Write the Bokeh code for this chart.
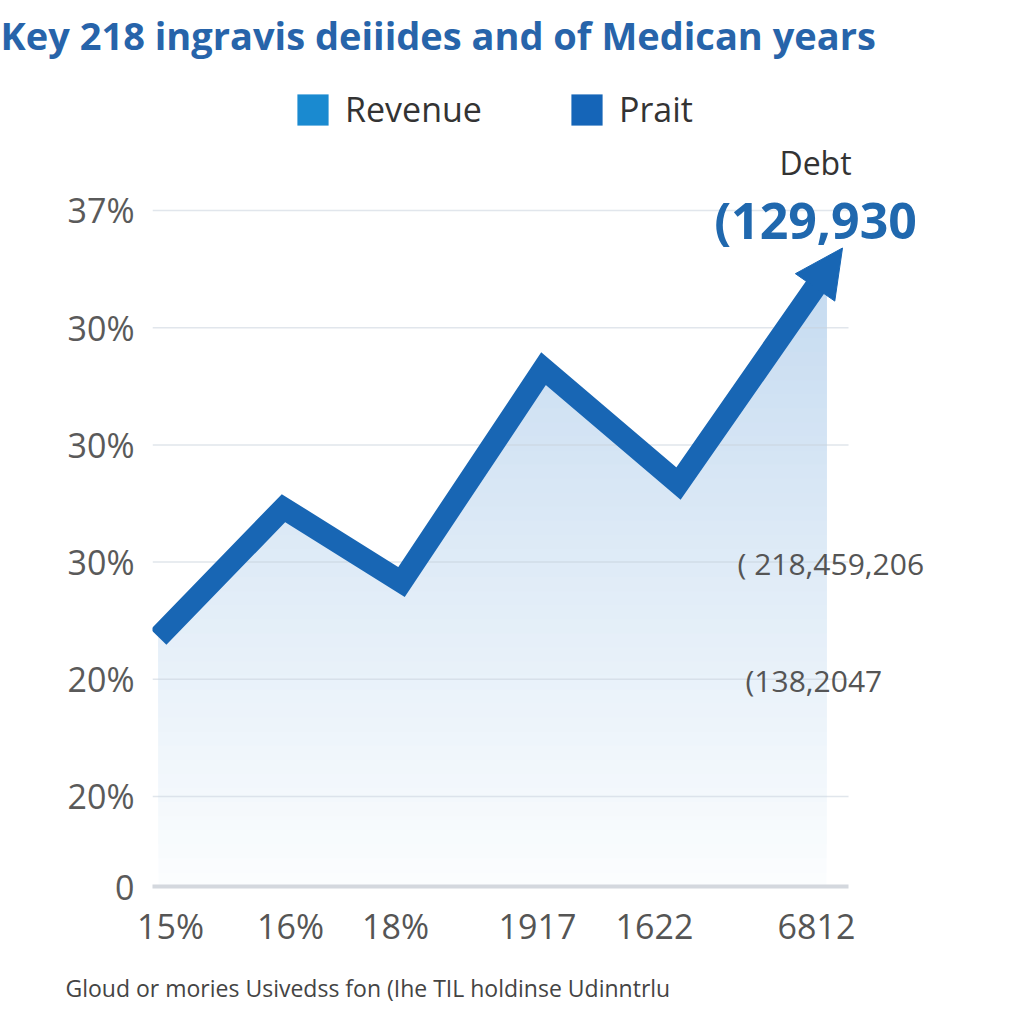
import numpy as np
from bokeh.plotting import figure
from bokeh.models import Label, Arrow, NormalHead, FixedTicker, Legend, LegendItem, Range1d, Title
from bokeh.embed import file_html
from bokeh.resources import INLINE

# ---- data ----
title_text = "Key 218 ingravis deiiides and of Medican years"
footer_text = "Gloud or mories Usivedss fon (Ihe TIL holdinse Udinntrlu"
legend_labels = ["Revenue", "Prait"]
legend_colors = ["#1a8ad0", "#1565b8"]
x_tick_pos = [0.18, 1.38, 2.43, 3.85, 5.02, 6.64]
x_tick_labels = ["15%", "16%", "18%", "1917", "1622", "6812"]
y_tick_pos = [0.232, 1, 2, 3, 4, 5, 6]
y_tick_labels = ["0", "20%", "20%", "30%", "30%", "30%", "37%"]
series_x = [0.06, 1.31, 2.49, 3.91, 5.26, 6.90]
series_y = [2.36, 3.46, 2.83, 4.65, 3.67, 5.68]
debt_label = "Debt"
debt_value = "(129,930"
note_values = ["( 218,459,206", "(138,2047"]
note_x = [5.85, 5.93]
note_y = [2.99, 1.99]

LINE = "#1866b4"
FONT = "Open Sans"
AXIS_END = 6.96          # where the axis line / grid lines stop
PX_X = 100.0             # px per x unit
PX_Y = 117.2             # px per y unit
TOP, BOTTOM, LEFT = 60, 138, 152
frame_h = 1024 - TOP - BOTTOM
frame_w = 1024 - LEFT

p = figure(width=1024, height=1024, output_backend="svg", toolbar_location=None,
           x_range=Range1d(0, frame_w / PX_X),
           y_range=Range1d(y_tick_pos[0], y_tick_pos[0] + frame_h / PX_Y),
           min_border_left=LEFT, min_border_right=0, min_border_top=TOP, min_border_bottom=BOTTOM,
           background_fill_color="white", border_fill_color="white")
p.outline_line_color = None
p.xgrid.visible = False
p.ygrid.visible = False

# title (top) and footer (bottom)
p.title.text = title_text
p.title.align = "left"
p.title.offset = -LEFT
p.title.text_font = FONT
p.title.text_font_size = "38px"
p.title.text_font_style = "bold"
p.title.text_color = "#2764aa"
p.title.standoff = 0
p.add_layout(Title(text=footer_text, align="left", offset=65 - LEFT, text_font=FONT,
                   text_font_size="23px", text_font_style="normal", text_color="#444444",
                   standoff=36), "below")

# axes
p.xaxis.ticker = FixedTicker(ticks=x_tick_pos)
p.xaxis.major_label_overrides = {v: s for v, s in zip(x_tick_pos, x_tick_labels)}
p.xaxis.bounds = (0, AXIS_END)
p.xaxis.major_tick_out = 0
p.xaxis.major_tick_in = 0
p.xaxis.minor_tick_out = 0
p.xaxis.minor_tick_in = 0
p.xaxis.axis_line_color = "#d4d8de"
p.xaxis.axis_line_width = 4
p.xaxis.major_label_text_font = FONT
p.xaxis.major_label_text_font_size = "34px"
p.xaxis.major_label_text_color = "#555555"
p.xaxis.major_label_standoff = 16

p.yaxis.ticker = FixedTicker(ticks=y_tick_pos)
p.yaxis.major_label_overrides = {v: s for v, s in zip(y_tick_pos, y_tick_labels)}
p.yaxis.major_tick_out = 0
p.yaxis.major_tick_in = 0
p.yaxis.minor_tick_out = 0
p.yaxis.minor_tick_in = 0
p.yaxis.axis_line_color = None
p.yaxis.major_label_text_font = FONT
p.yaxis.major_label_text_font_size = "34px"
p.yaxis.major_label_text_color = "#5a5a5a"
p.yaxis.major_label_standoff = 18

# line geometry: end the stroke a little before the arrow tip (in screen px)
dxp = (series_x[-1] - series_x[-2]) * PX_X
dyp = (series_y[-1] - series_y[-2]) * PX_Y
L = np.hypot(dxp, dyp)
back = 28.0
base_x = series_x[-1] - dxp / L * back / PX_X
base_y = series_y[-1] - dyp / L * back / PX_Y
lx = list(series_x[:-1]) + [base_x]
ly = list(series_y[:-1]) + [base_y]

# vertical gradient under the line: opaque layers painted bottom-up
xd = np.linspace(lx[0], lx[-1], 500)
yd = np.interp(xd, lx, ly)
c_lo = np.array([251, 253, 254])
c_hi = np.array([196, 218, 240])
y_lo, y_hi = y_tick_pos[0], yd.max()
for t in np.arange(y_lo, y_hi, 0.12):
    f = (t - y_lo) / (y_hi - y_lo)
    r, g, b = (c_lo + (c_hi - c_lo) * f).round().astype(int)
    p.varea(x=xd, y1=np.full_like(xd, t), y2=np.maximum(yd, t),
            fill_color="#%02x%02x%02x" % (r, g, b))

# horizontal grid lines at the y ticks, stopping where the axis line stops
gy = y_tick_pos[1:]
p.segment(x0=[0] * len(gy), x1=[AXIS_END] * len(gy), y0=gy, y1=gy,
          line_color="#c9d2dc", line_alpha=0.55, line_width=1.5)

p.line(lx, ly, line_width=22, line_color=LINE, line_join="miter", line_cap="butt")
p.add_layout(Arrow(end=NormalHead(size=48, fill_color=LINE, line_color=LINE, line_width=1),
                   x_start=base_x, y_start=base_y, x_end=series_x[-1], y_end=series_y[-1],
                   line_alpha=0, line_width=0))

# legend (swatches only; the quads themselves have no visible geometry)
r1 = p.quad(left=[np.nan], right=[np.nan], top=[np.nan], bottom=[np.nan],
            fill_color=legend_colors[0], line_color=None)
r2 = p.quad(left=[np.nan], right=[np.nan], top=[np.nan], bottom=[np.nan],
            fill_color=legend_colors[1], line_color=None)
legend = Legend(items=[LegendItem(label=legend_labels[0], renderers=[r1]),
                       LegendItem(label=legend_labels[1], renderers=[r2])],
                orientation="horizontal", location=(141, 754),
                background_fill_alpha=0, border_line_color=None,
                label_text_font=FONT, label_text_font_size="34px", label_text_color="#333333",
                glyph_width=39, glyph_height=39, label_standoff=13, spacing=85,
                padding=0, margin=0)
p.add_layout(legend)

# texts
p.add_layout(Label(x=6.63, y=6.41, text=debt_label, text_font=FONT, text_font_size="32px",
                   text_color="#333333", text_align="center", text_baseline="middle"))
p.add_layout(Label(x=6.63, y=5.915, text=debt_value, text_font=FONT, text_font_style="bold",
                   text_font_size="50px", text_color="#2068ae", text_align="center",
                   text_baseline="middle"))
for nx, ny, nt in zip(note_x, note_y, note_values):
    p.add_layout(Label(x=nx, y=ny, text=nt, text_font=FONT, text_font_size="30px",
                       text_color="#555555", text_baseline="middle"))

open("out.html", "w").write(file_html(p, INLINE))
